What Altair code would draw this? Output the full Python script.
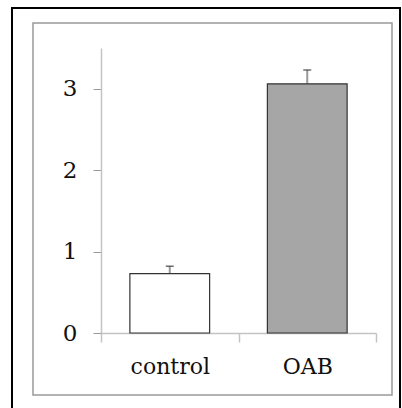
import altair as alt
import pandas as pd

categories = ["control", "OAB"]
means = [0.73, 3.06]
sems = [0.09, 0.17]
fills = ["#ffffff", "#a6a6a6"]
y_ticks = [0, 1, 2, 3]

df = pd.DataFrame({
    "group": categories,
    "mean": means,
    "upper": [m + s for m, s in zip(means, sems)],
    "fill": fills,
})
dummy = pd.DataFrame({"d": [0]})

FONT = "DejaVu Serif"

x_enc = alt.X(
    "group:N", sort=categories, title=None,
    scale=alt.Scale(paddingInner=0, paddingOuter=0),
    axis=alt.Axis(labelAngle=0, tickBand="extent", domainColor="#c4c4c4", domainWidth=1.5,
                  tickColor="#c4c4c4", tickWidth=1.5, tickSize=9, labelFont=FONT,
                  labelFontSize=22, labelColor="#111", labelPadding=14),
)
y_enc = alt.Y(
    "mean:Q", title=None,
    scale=alt.Scale(domain=[0, 3.5], nice=False),
    axis=alt.Axis(values=y_ticks, format="d", domainColor="#c4c4c4", domainWidth=1.5,
                  tickColor="#999", tickWidth=1, tickSize=8, labelFont=FONT,
                  labelFontSize=23, labelColor="#111", labelPadding=16, grid=False),
)

outer = alt.Chart(dummy).mark_rect(fill=None, stroke="#000", strokeWidth=2).encode(
    x=alt.value(-89), x2=alt.value(299), y=alt.value(-40), y2=alt.value(420))
inner = alt.Chart(dummy).mark_rect(fill=None, stroke="#999", strokeWidth=1.5).encode(
    x=alt.value(-68), x2=alt.value(291), y=alt.value(-25), y2=alt.value(347))

bars = alt.Chart(df).mark_bar(width={"band": 0.58}, stroke="#333", strokeWidth=1.2).encode(
    x=x_enc, y=y_enc, fill=alt.Fill("fill:N", scale=None))
err = alt.Chart(df).mark_rule(color="#999", strokeWidth=2).encode(
    x=x_enc, y=y_enc, y2="upper:Q")
cap = alt.Chart(df).mark_tick(color="#333", size=8, thickness=1.5).encode(
    x=x_enc, y=alt.Y("upper:Q"))

chart = alt.layer(outer, inner, err, bars, cap).properties(
    width=275, height=285,
    autosize=alt.AutoSizeParams(type="none"),
    padding={"left": 101, "top": 48, "right": 26, "bottom": 75},
    background="#ffffff",
).configure_view(stroke=None)

chart.save("out.html", embed_options={"renderer": "svg", "actions": False})
